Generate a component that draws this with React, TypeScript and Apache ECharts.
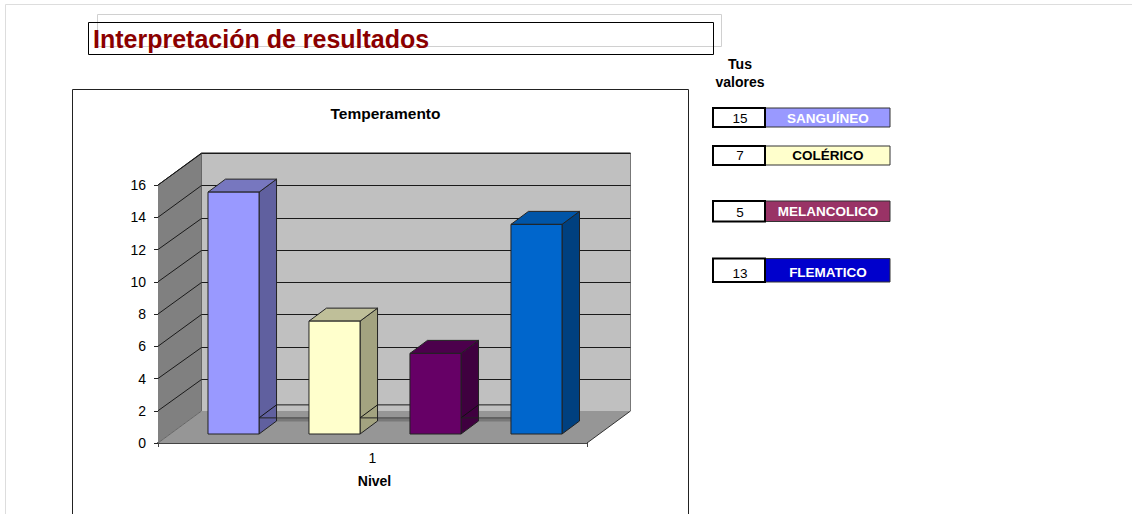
import React, { useEffect, useRef } from "react";
import * as echarts from "echarts";

const categories = ["1"];
const seriesNames = ["SANGUÍNEO", "COLÉRICO", "MELANCOLICO", "FLEMATICO"];
const seriesValues = [15, 7, 5, 13];
const yMax = 16;
const yTicks = [2, 4, 6, 8, 10, 12, 14, 16];
const ledgeValue = 1;
const barFront = ["#9999FF", "#FFFFCC", "#660066", "#0066CC"];
const barSide = ["#60609F", "#A3A380", "#3F003F", "#00407F"];
const barTop = ["#7777BF", "#BFBF99", "#4C004C", "#0055A8"];
const legendFill = ["#9999FF", "#FFFFCC", "#993366", "#0000CC"];
const legendInk = ["#FFFFFF", "#000000", "#FFFFFF", "#FFFFFF"];

const FONT = '"Liberation Sans", Arial, sans-serif';
const WALL = { dx: 43.5, dy: 32 };
const BAR = { dx: 17.5, dy: 13, shiftX: 12.5, shiftY: 9, width: 0.119, step: 0.2354 };
const INK = "#1A1A1A";

const poly = (points: number[][], fill: string, stroke = "none", lineWidth = 1) => ({
  type: "polygon",
  shape: { points },
  style: { fill, stroke, lineWidth },
});
const seg = (x1: number, y1: number, x2: number, y2: number, stroke = INK, lineWidth = 1) => ({
  type: "line",
  shape: { x1, y1, x2, y2 },
  style: { stroke, lineWidth, fill: "none" },
});

function renderWalls(_p: any, api: any) {
  const [cx, y0] = api.coord([0, 0]);
  const [bw, unit] = api.size([1, 1]);
  const L = cx - bw / 2;
  const R = cx + bw / 2;
  const yTop = y0 - yMax * unit;
  const { dx, dy } = WALL;
  const children: any[] = [
    poly([[L + dx, yTop - dy], [R + dx, yTop - dy], [R + dx, y0 - dy], [L + dx, y0 - dy]], "#C0C0C0"),
    poly([[L, yTop], [L + dx, yTop - dy], [L + dx, y0 - dy], [L, y0]], "#808080"),
    poly([[L, y0], [R, y0], [R + dx, y0 - dy], [L + dx, y0 - dy]], "#969696"),
    seg(L, yTop, L + dx, yTop - dy),
    seg(L + dx, yTop - dy, R + dx, yTop - dy),
    seg(R + dx, yTop - dy, R + dx, y0 - dy, "#777777"),
    seg(L + dx, yTop - dy, L + dx, y0 - dy, "#666666"),
    seg(R, y0, R + dx, y0 - dy, "#333333"),
    seg(L, y0, L + dx, y0 - dy, "#666666"),
  ];
  yTicks.forEach((v) => {
    const y = Math.round(y0 - v * unit - dy) + 0.5;
    const yf = y0 - v * unit;
    children.push(seg(L + dx, y, R + dx, y));
    children.push(seg(L, yf, L + dx, y));
  });
  // dark ledge between the first and the last bar
  const first = cx + (-1.5 * BAR.step) * bw + BAR.shiftX + (BAR.width * bw) / 2;
  const last = cx + (1.5 * BAR.step) * bw + BAR.shiftX - (BAR.width * bw) / 2;
  const ly = y0 - BAR.shiftY - ledgeValue * unit;
  children.push(poly([[first, ly], [last, ly], [last, ly + 3.5], [first, ly + 3.5]], "#787878"));
  children.push(seg(first, ly, last, ly, "#444444"));
  children.push(seg(first + BAR.dx, ly - BAR.dy, last, ly - BAR.dy));
  return { type: "group", children };
}

function renderBar(params: any, api: any) {
  const i = params.dataIndex;
  const [cx, y0] = api.coord([0, 0]);
  const [, yv] = api.coord([0, api.value(1)]);
  const [bw] = api.size([1, 1]);
  const w = BAR.width * bw;
  const x0 = cx + (i - 1.5) * BAR.step * bw + BAR.shiftX - w / 2;
  const x1 = x0 + w;
  const yb = y0 - BAR.shiftY;
  const yt = yv - BAR.shiftY;
  const { dx, dy } = BAR;
  const edge = "#222222";
  return {
    type: "group",
    children: [
      poly([[x1, yt], [x1 + dx, yt - dy], [x1 + dx, yb - dy], [x1, yb]], barSide[i], edge),
      poly([[x0, yt], [x0 + dx, yt - dy], [x1 + dx, yt - dy], [x1, yt]], barTop[i], edge),
      poly([[x0, yt], [x1, yt], [x1, yb], [x0, yb]], barFront[i], edge),
    ],
  };
}

function renderLedge(params: any, api: any) {
  const i = params.dataIndex;
  const [cx, y0] = api.coord([0, 0]);
  const [bw, unit] = api.size([1, 1]);
  const w = BAR.width * bw;
  const x1 = cx + (i - 1.5) * BAR.step * bw + BAR.shiftX + w / 2;
  const y = y0 - BAR.shiftY - ledgeValue * unit;
  return {
    type: "group",
    children: [
      seg(x1, y, x1 + BAR.dx, y - BAR.dy, "#111111"),
      seg(x1, y, x1 + BAR.dx, y, "#222222"),
    ],
  };
}

const rowTops = [108, 146, 201, 258.5];
const rowHeights = [19, 19, 20.5, 23.5];
const rowTextY = [118, 155, 212, 272];

function legendGraphics() {
  const out: any[] = [];
  seriesNames.forEach((name, i) => {
    const y = rowTops[i];
    const h = rowHeights[i];
    out.push({
      type: "rect",
      shape: { x: 765, y, width: 125, height: h },
      style: { fill: legendFill[i], stroke: "#333333", lineWidth: 1 },
    });
    out.push({
      type: "rect",
      shape: { x: 713, y, width: 52, height: h },
      style: { fill: "#FFFFFF", stroke: "#000000", lineWidth: 2 },
    });
    out.push({
      type: "text",
      style: {
        text: String(seriesValues[i]), x: 740, y: rowTextY[i] + (i === 3 ? 1 : 0),
        textAlign: "center", textVerticalAlign: "middle",
        font: `13.5px ${FONT}`, fill: "#000000",
      },
    });
    out.push({
      type: "text",
      style: {
        text: name, x: 828, y: rowTextY[i] - (i === 2 ? 1 : 0),
        textAlign: "center", textVerticalAlign: "middle",
        font: `bold 13.5px ${FONT}`, fill: legendInk[i],
      },
    });
  });
  return out;
}

export default function App() {
  const ref = useRef<HTMLDivElement>(null);
  useEffect(() => {
    document.body.style.margin = "0";
    const chart = echarts.init(ref.current!, undefined, { renderer: "svg" });
    chart.setOption({
      animation: false,
      backgroundColor: "#FFFFFF",
      title: {
        text: "Temperamento", left: 380.5, top: 100,
        textAlign: "center",
        textStyle: { fontFamily: FONT, fontWeight: "bold", fontSize: 15.5, color: "#000000" },
      },
      grid: { left: 158, top: 185, width: 429, height: 258, containLabel: false },
      xAxis: {
        type: "category",
        data: categories,
        name: "Nivel",
        nameLocation: "middle",
        nameGap: 31,
        nameTextStyle: { fontFamily: FONT, fontWeight: "bold", fontSize: 14, color: "#000000", padding: [0, 0, 0, 4] },
        axisLine: { lineStyle: { color: "#444444", width: 2 } },
        axisTick: { show: true, length: 4, lineStyle: { color: "#444444" } },
        axisLabel: { fontFamily: FONT, fontSize: 14, color: "#000000", margin: 8 },
        splitLine: { show: false },
      },
      yAxis: {
        type: "value",
        min: 0,
        max: yMax,
        interval: 2,
        axisLine: { show: true, lineStyle: { color: "#333333" } },
        axisTick: { show: true, length: 4, lineStyle: { color: "#222222" } },
        axisLabel: { fontFamily: FONT, fontSize: 14, color: "#000000", margin: 12 },
        splitLine: { show: false },
      },
      series: [
        { type: "custom", name: "walls", renderItem: renderWalls, data: [[0, 0]], z: 1, silent: true },
        {
          type: "custom",
          name: "Temperamento",
          renderItem: renderBar,
          data: seriesValues.map((v) => [0, v]),
          encode: { x: 0, y: 1 },
          z: 2,
        },
        {
          type: "custom",
          name: "ledge",
          renderItem: renderLedge,
          data: seriesValues.slice(0, 3).map(() => [0, ledgeValue]),
          z: 3,
          silent: true,
        },
      ],
      graphic: [
        { type: "line", shape: { x1: 5.5, y1: 4.5, x2: 1132, y2: 4.5 }, style: { stroke: "#DDDDDD", lineWidth: 1 } },
        { type: "line", shape: { x1: 5.5, y1: 4.5, x2: 5.5, y2: 514 }, style: { stroke: "#DDDDDD", lineWidth: 1 } },
        { type: "rect", shape: { x: 97.5, y: 14.5, width: 624, height: 32 }, style: { fill: "none", stroke: "#D0D0D0", lineWidth: 1 } },
        {
          type: "text",
          style: {
            text: "Interpretación de resultados", x: 93, y: 39,
            textVerticalAlign: "middle", font: `bold 25px ${FONT}`, fill: "#8B0000",
          },
        },
        { type: "rect", shape: { x: 88.5, y: 22.5, width: 625, height: 32 }, style: { fill: "none", stroke: "#000000", lineWidth: 1 } },
        { type: "rect", shape: { x: 72.5, y: 89.5, width: 616, height: 440 }, style: { fill: "none", stroke: "#222222", lineWidth: 1 } },
        { type: "text", style: { text: "Tus", x: 740, y: 63.5, textAlign: "center", textVerticalAlign: "middle", font: `bold 14px ${FONT}`, fill: "#000000" } },
        { type: "text", style: { text: "valores", x: 740, y: 81.5, textAlign: "center", textVerticalAlign: "middle", font: `bold 14px ${FONT}`, fill: "#000000" } },
        ...legendGraphics(),
      ],
    });
    return () => chart.dispose();
  }, []);
  return <div ref={ref} style={{ width: 1132, height: 514 }} />;
}
